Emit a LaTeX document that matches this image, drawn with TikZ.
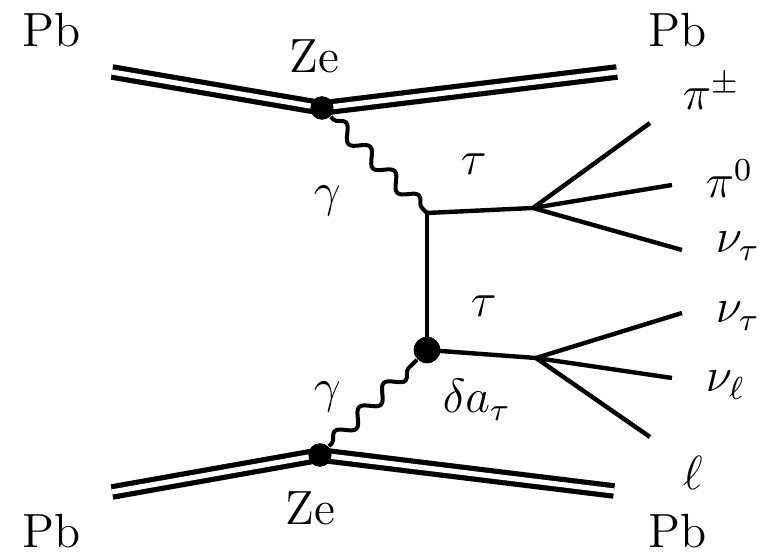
\documentclass[tikz,border=0pt]{standalone}
\usepackage{amsmath,amssymb}
\usetikzlibrary{decorations.pathmorphing}

\begin{document}
\begin{tikzpicture}[
    x=0.25pt, y=-0.25pt,
    txt/.style={inner sep=0pt, anchor=base west, font=\fontsize{12}{14}\selectfont},
    blob/.style={circle, fill=black, inner sep=0pt, minimum size=#1},
    ion/.style={double, double distance=1.3pt, line width=1.3pt},
    photon/.style={decorate, decoration={snake, amplitude=1.7pt, segment length=8.6pt, pre length=1pt, post length=1pt}, line width=1pt},
    fermion/.style={line width=1.1pt}
]
\useasboundingbox (0,0) rectangle (775,554);

% Vertices
\node[blob=5.8pt] (v1) at (322,108) {};
\node[blob=5.8pt] (v4) at (320,455) {};
\node[blob=6.6pt] (v3) at (427,350) {};
\coordinate (v2) at (427,213);
\coordinate (b1) at (533,208);
\coordinate (b2) at (536,358);

% Ion line ends
\coordinate (pbtl) at (112,72);
\coordinate (pbtr) at (617,72);
\coordinate (pbbl) at (112,492);
\coordinate (pbbr) at (614,491);

% Decay product ends
\coordinate (e1) at (650,123);
\coordinate (e2) at (672,185);
\coordinate (e3) at (682,250);
\coordinate (e4) at (682,313);
\coordinate (e5) at (672,378);
\coordinate (e6) at (650,437);

% Lead ions
\draw[ion] (pbtl) -- (v1.center) -- (pbtr);
\draw[ion] (pbbl) -- (v4.center) -- (pbbr);

% Photons
\draw[photon] (v1) -- (v2);
\draw[photon] (v4) -- (v3);

% Tau pair
\draw[fermion] (v2) -- (v3.center);
\draw[fermion] (v2) -- (b1);
\draw[fermion] (v3.center) -- (b2);

% Tau decays
\draw[fermion] (b1) -- (e1);
\draw[fermion] (b1) -- (e2);
\draw[fermion] (b1) -- (e3);
\draw[fermion] (b2) -- (e4);
\draw[fermion] (b2) -- (e5);
\draw[fermion] (b2) -- (e6);

% Redraw vertex blobs on top
\node[blob=5.8pt] at (v1) {};
\node[blob=5.8pt] at (v4) {};
\node[blob=6.6pt] at (v3) {};

% Labels
\node[txt] (pb1) at (22,47) {Pb};
\node[txt] (pb2) at (648,47) {Pb};
\node[txt] (pb3) at (22,548) {Pb};
\node[txt] (pb4) at (648,548) {Pb};
\node[txt] (ze1) at (289,73) {Ze};
\node[txt] (ze2) at (285,525) {Ze};
\node[txt] (g1) at (313,207) {$\gamma$};
\node[txt] (g2) at (313,403) {$\gamma$};
\node[txt] (t1) at (460,175) {$\tau$};
\node[txt] (t2) at (470,317) {$\tau$};
\node[txt] (da) at (442,413) {$\delta a_\tau$};
\node[txt] (pic) at (682,110) {$\pi^\pm$};
\node[txt] (pin) at (705,198) {$\pi^0$};
\node[txt] (nu1) at (715,253) {$\nu_\tau$};
\node[txt] (nu2) at (715,323) {$\nu_\tau$};
\node[txt] (nu3) at (705,392) {$\nu_\ell$};
\node[txt] (lep) at (682,490) {$\ell$};

\end{tikzpicture}
\end{document}
